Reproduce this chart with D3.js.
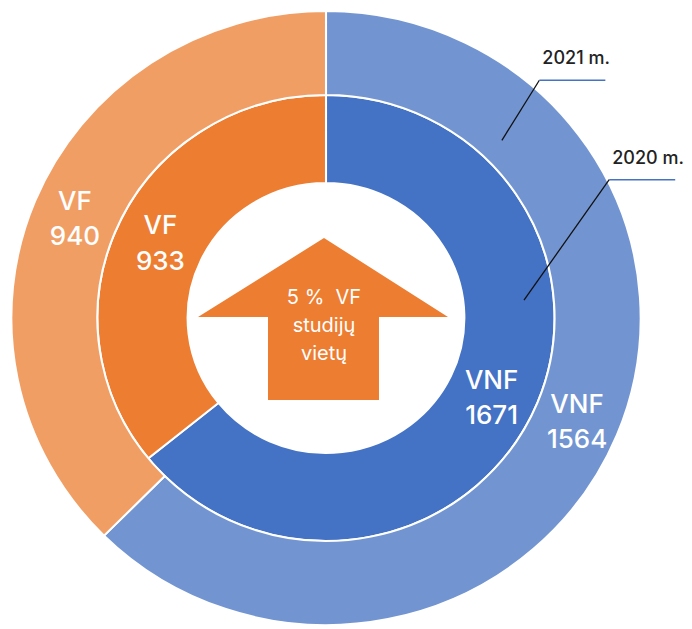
<!DOCTYPE html>
<html>
<head>
<meta charset="utf-8">
<script src="https://cdn.jsdelivr.net/npm/d3@7"></script>
<style>
  body { margin: 0; background: #fff; }
  text { font-family: Inter, "Noto Sans", sans-serif; }
</style>
</head>
<body>
<div class="chart"></div>
<script>
// two rings: inner = 2020 m., outer = 2021 m.

var categories = ["VNF", "VF"];
var values2020 = [1671, 933];
var values2021 = [1564, 940];
var years = ["2020 m.", "2021 m."];
var centerText = ["5 %  VF", "studijų", "vietų"];

var width = 692,
    height = 629,
    cx = 326,
    cy = 318,
    sx = 1.025;   // picture is a bit wider than tall

var rings = [
  {year: years[0], values: values2020, inner: 135, outer: 223,
   colors: {VNF: "#4472C4", VF: "#ED7D31"}},
  {year: years[1], values: values2021, inner: 223, outer: 307,
   colors: {VNF: "#7295D2", VF: "#F19E65"}}
];

var pie = d3.pie().sort(null).startAngle(0).endAngle(2 * Math.PI);

var svg = d3.select(".chart").append("svg")
    .attr("width", width)
    .attr("height", height);

var g = svg.append("g")
    .attr("transform", "translate(" + cx + "," + cy + ") scale(" + sx + ",1)");

rings.forEach(function(ring) {
  var arc = d3.arc().innerRadius(ring.inner).outerRadius(ring.outer);
  var slices = pie(ring.values);

  g.selectAll(null)
    .data(slices)
    .enter().append("path")
    .attr("d", arc)
    .attr("fill", function(d, i) { return ring.colors[categories[i]]; })
    .attr("stroke", "#fff")
    .attr("stroke-width", 2);

  // labels at centroids
  slices.forEach(function(d, i) {
    var c = arc.centroid(d);
    var x = cx + c[0] * sx;
    var t = svg.append("text")
        .attr("x", x)
        .attr("y", cy + c[1])
        .attr("text-anchor", "middle")
        .attr("fill", "#fff")
        .attr("font-size", 26)
        .attr("font-weight", 500);
    t.append("tspan").attr("x", x).attr("dy", "-0.25em").text(categories[i]);
    t.append("tspan").attr("x", x).attr("dy", "1.35em").text(ring.values[i]);
  });
});

/* center arrow */
var arrow = [[324, 238], [448, 317], [379, 317], [379, 400], [268, 400], [268, 317], [198, 317]];
svg.append("path")
    .attr("d", d3.line()(arrow) + "Z")
    .attr("fill", "#ED7D31");

svg.append("g").selectAll("text")
    .data(centerText)
    .enter().append("text")
    .attr("x", 324)
    .attr("y", function(d, i) { return 304 + i * 28; })
    .attr("text-anchor", "middle")
    .attr("fill", "#fff")
    .attr("font-size", 20)
    .attr("font-weight", 400)
    .style("white-space", "pre")
    .text(function(d) { return d; });

/* year callouts: start inside the ring, end at the rim */
var callouts = [
  {year: years[1], a0: 44, r0: 247, a1: 41.2, r1: 316},
  {year: years[0], a0: 84.7, r0: 194, a1: 63.4, r1: 309}
];
function polar(a, r) {
  var rad = a * Math.PI / 180;
  return [cx + Math.sin(rad) * r * sx, cy - Math.cos(rad) * r];
}
callouts.forEach(function(c) {
  var p0 = polar(c.a0, c.r0), p1 = polar(c.a1, c.r1);
  svg.append("line")
      .attr("x1", p0[0]).attr("y1", p0[1])
      .attr("x2", p1[0]).attr("y2", p1[1])
      .attr("stroke", "#111").attr("stroke-width", 1.3);
  svg.append("line")
      .attr("x1", p1[0]).attr("y1", p1[1])
      .attr("x2", p1[0] + 66).attr("y2", p1[1])
      .attr("stroke", "#4472C4").attr("stroke-width", 1.5);
  svg.append("text")
      .attr("x", p1[0] + 3)
      .attr("y", p1[1] - 16)
      .attr("fill", "#222")
      .attr("font-size", 18)
      .attr("font-weight", 500)
      .text(c.year);
});
</script>
</body>
</html>
